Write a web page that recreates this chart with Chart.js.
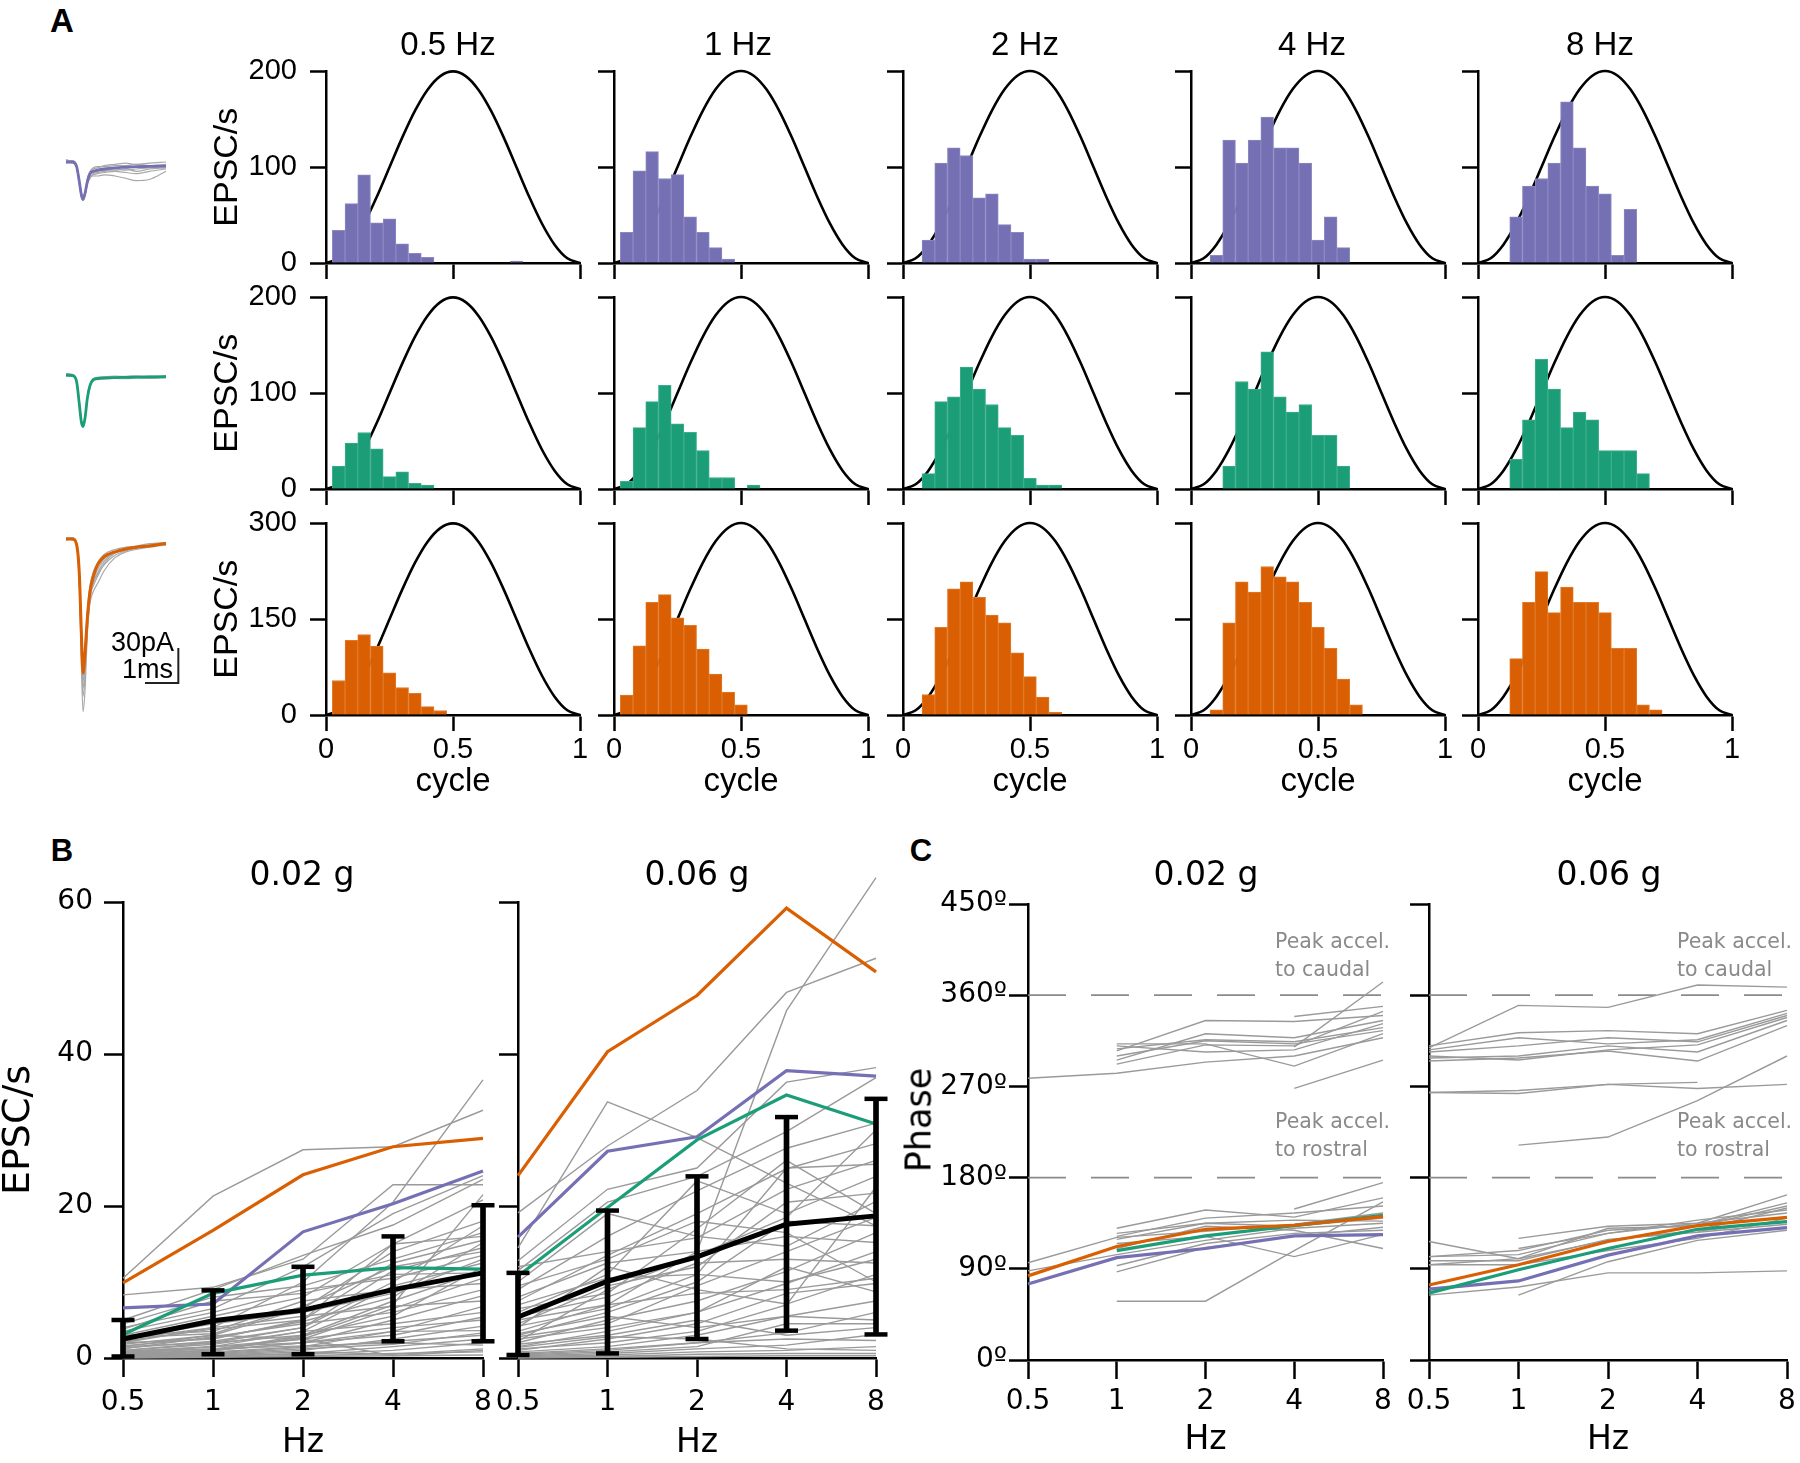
<!DOCTYPE html>
<html><head><meta charset="utf-8">
<script src="https://cdn.jsdelivr.net/npm/chart.js@4.4.1/dist/chart.umd.min.js"></script>
<style>
html,body{margin:0;padding:0;background:#fff;}
#fig{position:relative;width:1800px;height:1463px;overflow:hidden;background:#fff;}
#fig canvas{position:absolute;}
.t{position:absolute;white-space:pre;line-height:1;color:#000;}
</style></head><body><div id="fig"></div>
<script>
// ================= DATA =================
const freqLabels = ['0.5', '1', '2', '4', '8'];
const colTitles = ['0.5 Hz', '1 Hz', '2 Hz', '4 Hz', '8 Hz'];
const cycleTicks = ['0', '0.5', '1'];
const phaseTickLabels = ['0º', '90º', '180º', '270º', '360º', '450º'];
const refPhases = [180, 360];

// histogram bin centres (cycle)
const binCenters = [0.05,0.10,0.15,0.20,0.25,0.30,0.35,0.40,0.45,0.50,0.55,0.60,0.65,0.70,0.75,0.80,0.85,0.90,0.95];
// stimulus (normalised acceleration) sampled over one cycle
const stimX = [0,0.05,0.10,0.15,0.20,0.25,0.30,0.35,0.40,0.45,0.50,0.55,0.60,0.65,0.70,0.75,0.80,0.85,0.90,0.95,1.0];
const stimShape = [0,0.0245,0.0955,0.2061,0.3455,0.5,0.6545,0.7939,0.9045,0.9755,1,0.9755,0.9045,0.7939,0.6545,0.5,0.3455,0.2061,0.0955,0.0245,0];
const rowPeaks = [200, 200, 300];
const rowTickStep = [100, 100, 150];

// EPSC/s histograms, row 1 (purple cell)
const histPurple05 = [34,62,92,42,46,20,10,6,0,0,0,0,0,0,2,0,0,0,0];
const histPurple1  = [32,96,116,88,92,48,32,16,4,0,0,0,0,0,0,0,0,0,0];
const histPurple2  = [0,24,104,120,112,68,72,40,32,4,4,0,0,0,0,0,0,0,0];
const histPurple4  = [0,8,128,104,128,152,120,120,104,24,48,16,0,0,0,0,0,0,0];
const histPurple8  = [0,0,48,80,88,104,168,120,80,72,8,56,0,0,0,0,0,0,0];
// row 2 (green cell)
const histGreen05 = [24,48,59,42,13,18,6,4,0,0,0,0,0,0,0,0,0,0,0];
const histGreen1  = [8,64,91,108,68,59,40,12,12,0,4,0,0,0,0,0,0,0,0];
const histGreen2  = [0,16,91,96,127,104,88,64,56,11,4,4,0,0,0,0,0,0,0];
const histGreen4  = [0,0,24,112,104,143,96,80,88,56,56,24,0,0,0,0,0,0,0];
const histGreen8  = [0,0,31,72,135,104,64,80,72,40,40,40,16,0,0,0,0,0,0];
// row 3 (orange cell)
const histOrange05 = [54,117,126,108,66,43,34,13,7,0,0,0,0,0,0,0,0,0,0];
const histOrange1  = [31,108,176,188,152,140,103,64,36,16,0,0,0,0,0,0,0,0,0];
const histOrange2  = [0,32,137,197,208,184,156,144,97,60,28,4,0,0,0,0,0,0,0];
const histOrange4  = [0,8,144,208,192,232,216,208,176,137,104,56,16,0,0,0,0,0,0];
const histOrange8  = [0,0,88,176,224,160,200,176,176,160,104,104,16,8,0,0,0,0,0];

// mean EPSC waveforms (time in ms, current in pA)
const waveT = [0,0.2,0.32,0.4,0.46,0.51,0.57,0.64,0.72,0.82,0.95,1.15,1.47,1.8,2.1,2.5,3.0];
const wavePurple = [0,0,-4,-17,-28,-32,-27,-17,-10,-8,-7,-6,-5,-4.5,-4,-3.8,-3.5];
const wavePurpleGray = [
  [1,1,-3,-15,-26,-30,-26,-17,-12,-11,-10,-9,-8,-9,-10,-8,-6],
  [-1,0,-5,-19,-30,-33,-29,-18,-9,-6,-5,-3,-2,-1,-2,-1,0],
  [0,1,-4,-16,-27,-31,-27,-18,-13,-12,-12,-11,-12,-14,-16,-15,-8],
  [2,0,-3,-17,-29,-32,-26,-14,-8,-5,-4,-4,-3,-3,-2,-3,-2],
  [0,-1,-4,-18,-28,-31,-28,-19,-14,-10,-9,-8,-6,-7,-6,-5,-4],
  [1,0,-5,-18,-29,-33,-28,-16,-11,-9,-8,-7,-7,-6,-8,-6,-5]
];
const waveGreen = [0,-0.5,-6,-25,-40,-44,-37,-20,-9,-4,-3,-2.5,-2.2,-2,-1.8,-1.7,-1.5];
const waveGreenGray = [
  [1,0.5,-5,-23,-38,-43,-36,-19,-8,-3,-2,-1.5,-1,-1.2,-0.8,-1,-0.5],
  [-1,-1,-7,-26,-41,-45,-38,-21,-10,-5,-4,-3.5,-3,-3.2,-2.5,-2.8,-2.2]
];
const waveOrange = [0,0,-5,-30,-80,-115,-98,-68,-45,-32,-22,-15,-11,-8.5,-7,-6,-3.6];
const waveOrangeGray = [
  [1,0,-6,-40,-105,-148,-130,-82,-52,-38,-30,-22,-14,-10,-8,-6,-5],
  [0,1,-4,-35,-95,-135,-118,-78,-55,-45,-38,-27,-16,-11,-9,-7,-5],
  [-1,0,-5,-28,-78,-112,-97,-62,-40,-28,-20,-13,-9,-7,-6,-4,-3],
  [1,1,-3,-25,-72,-106,-93,-64,-47,-40,-32,-21,-12,-9,-7,-6,-4],
  [0,0,-6,-38,-92,-128,-110,-74,-50,-37,-29,-19,-11,-8,-7,-5,-4],
  [0,-1,-5,-33,-88,-122,-106,-70,-48,-35,-26,-17,-12,-9,-8,-6,-5]
];
// scale bar: 1 ms x 30 pA
const scaleBarT = [2.37, 3.37, 3.37];
const scaleBarI = [-123.4, -123.4, -93.4];

// Panel B: EPSC/s vs frequency
const bLowOrange = [9.9,16.8,24.1,27.8,28.9];
const bLowPurple = [6.6,7.1,16.6,20.3,24.6];
const bLowGreen  = [3.1,8.5,10.9,11.9,11.7];
const bLowMean   = [2.5,4.9,6.3,9.0,11.2];
const bLowErrLo  = [0.2,0.5,0.5,2.2,2.2];
const bLowErrHi  = [5.0,8.9,12.0,16.0,20.1];
const bLowGray = [
  [10.5,21.3,27.4,27.8,32.6],[2.5,4.0,10.0,20.5,36.6],[8.3,9.3,13.0,22.8,22.8],[4.0,6.5,12.0,19.0,24.0],
  [5.0,9.0,13.5,17.5,23.5],[3.0,5.5,8.0,15.0,20.8],[1.5,3.0,6.5,14.0,18.0],[4.5,8.0,9.5,13.0,16.5],
  [2.0,2.5,5.0,12.5,15.5],[1.0,2.0,4.0,11.5,14.5],[3.5,6.0,9.0,10.5,13.5],[0.5,1.5,3.5,9.5,12.5],
  [2.5,4.5,6.0,8.5,13.0],[1.5,2.0,3.0,7.5,11.5],[0.8,1.2,2.5,6.5,10.5],[3.0,3.5,7.5,9.0,9.8],
  [1.2,2.8,4.5,6.0,9.0],[0.5,1.0,2.0,5.0,8.2],[2.0,4.0,5.5,6.8,7.5],[0.3,0.8,1.5,3.5,6.8],
  [1.0,1.8,3.5,4.5,6.0],[0.6,1.0,2.0,3.0,5.4],[1.8,3.0,2.5,4.0,5.0],[0.2,0.5,1.0,2.5,4.2],
  [0.9,1.5,2.0,3.5,3.6],[0.4,0.6,1.2,1.8,3.3],[0.1,0.3,0.6,1.5,2.5],[0.7,1.2,1.6,2.0,1.7],
  [0.2,0.4,0.8,0.5,1.2],[0.1,0.2,0.3,0.6,0.8],[0.0,0.1,0.2,0.3,0.4],[1.3,2.2,4.0,10.0,17.4],
  [2.2,3.8,5.0,15.0,16.0],[0.4,1.0,3.0,5.5,12.0],[1.6,2.6,4.8,8.0,15.2],[0.3,0.7,1.4,2.2,3.0],
  [3.8,7.5,8.5,11.0,11.2],[0.5,0.9,2.8,7.0,21.5],[2.7,3.2,6.8,12.0,14.0],[0.2,0.3,0.5,1.0,2.0],
  [0.8,1.5,2.5,0.3,1.0]
];
const bHighOrange = [24.0,40.3,47.7,59.2,50.8];
const bHighPurple = [15.9,27.2,29.1,37.8,37.1];
const bHighGreen  = [10.8,19.8,28.7,34.6,30.8];
const bHighMean   = [5.4,10.1,13.3,17.6,18.7];
const bHighErrLo  = [0.4,0.6,2.5,3.6,3.1];
const bHighErrHi  = [11.2,19.4,23.9,31.7,34.1];
const bHighGray = [
  [3.5,7.0,14.0,45.7,63.2],[19.1,27.9,35.2,48.1,52.6],[14.5,33.7,29.0,23.0,17.4],[12.8,22.2,25.0,36.3,38.2],
  [11.5,20.5,23.9,29.8,36.9],[9.0,16.0,22.0,27.6,30.9],[7.5,13.5,19.0,24.9,28.2],[12.0,14.0,15.8,22.2,26.0],
  [6.0,11.0,23.3,19.0,23.9],[4.5,9.5,12.0,20.5,21.7],[10.0,19.0,16.0,14.7,20.6],[3.0,6.0,10.0,18.0,17.4],
  [8.0,12.5,14.0,16.0,15.2],[2.0,5.0,7.5,11.4,16.5],[5.5,8.0,12.5,13.0,12.5],[1.5,3.5,6.0,9.8,14.0],
  [4.0,12.0,9.0,7.1,11.0],[1.0,2.5,4.5,8.5,9.8],[2.5,4.0,6.0,12.0,8.7],[0.8,1.5,3.0,5.5,7.5],
  [3.2,5.5,4.0,5.5,5.0],[0.5,1.0,2.0,3.3,6.0],[1.8,3.0,5.0,3.0,4.0],[0.3,0.6,1.2,1.7,3.1],
  [0.6,1.2,2.0,2.5,2.3],[0.2,0.4,0.8,1.0,1.5],[0.1,0.2,0.5,0.6,0.6],[0.0,0.1,0.2,0.3,0.3],
  [6.5,8.5,17.0,26.0,19.0],[2.2,9.0,13.5,18.5,30.0],[7.0,10.5,11.0,10.0,13.0],[1.2,2.0,3.5,7.0,22.5],
  [5.0,7.0,8.5,9.0,10.5],[0.4,0.8,1.5,4.5,4.5],[2.8,4.5,9.5,14.0,18.5],[9.5,13.0,18.0,16.5,10.0],
  [1.4,2.8,2.5,1.2,1.0],[4.2,6.5,11.0,25.0,25.5]
];

// Panel C: phase (deg) vs frequency
const cLowOrange = [83,112,129,133,141.5];
const cLowGreen  = [null,108,122.5,132.6,142.7];
const cLowPurple = [75,101,110,122.5,123.7];
const cLowGray = [
  [96,121,127,134,145],[null,130,148,141,160],[null,122,140,145,152],[null,119,135,138,137],
  [null,93,115,125,128],[null,87,111,122,131],[null,58,58,108,156],[null,115,122,102,124],
  [88,104,118,130,135],[null,null,null,149,175],[null,110,132,128,110],[null,125,135,132,140],
  [278,283,294,300,318],[null,310,304,306,332],[null,305,335,334,340],[null,296,322,318,335],
  [null,307,316,314,328],[null,300,315,312,325],[null,292,311,310,344],[null,null,null,339,349],
  [null,null,null,268,296],[null,null,null,309,373],[null,312,312,290,322]
];
const cHighOrange = [74,94,117,132.6,140.7];
const cHighGreen  = [66,89,110,129,136.6];
const cHighPurple = [70,78,103.5,122.5,130.6];
const cHighGray = [
  [308,350,348,370,368],[310,323,325,322,345],[304,310,318,314,340],[298,300,310,304,335],
  [300,296,306,311,338],[295,298,305,295,330],[264,263,272,274,null],[264,266,272,268,272],
  [null,212,220,256,300],[306,318,312,316,342],
  [117,100,118,128,150],[102,104,125,135,163],[94,94,108,120,140],[102,108,128,133,155],
  [null,120,132,135,145],[null,64,97,118,128],[64,72,86,86,88],[98,98,119,126,134],
  [null,110,125,138,148],[null,null,null,127,137],[94,100,130,132,152]
];

// ================= STYLE =================
const cPurple = '#7570b3', cGreen = '#1b9e77', cOrange = '#d95f02', cGray = '#9a9a9a';
const cPurpleEdge = '#8c88c2', cGreenEdge = '#3cae8b', cOrangeEdge = '#e07a2a';
const FA = "'Liberation Sans', Arial, sans-serif";
const FB = "'DejaVu Sans', Verdana, sans-serif";

Chart.defaults.animation = false;
Chart.defaults.responsive = false;
Chart.defaults.events = [];
Chart.defaults.color = '#000';
Chart.defaults.font.family = FA;
Chart.defaults.plugins.legend.display = false;
Chart.defaults.plugins.tooltip.enabled = false;
Chart.defaults.elements.point.radius = 0;
Chart.defaults.elements.line.tension = 0;

const fig = document.getElementById('fig');

function fixedChart(o) {
  const PT = 30, PR = 30;
  const W = o.yW + o.w + PR, H = PT + o.h + o.xH;
  const cv = document.createElement('canvas');
  cv.width = W; cv.height = H;
  cv.style.left = (o.left - o.yW) + 'px';
  cv.style.top = (o.top - PT) + 'px';
  cv.style.width = W + 'px'; cv.style.height = H + 'px';
  fig.appendChild(cv);
  const cfg = o.config;
  cfg.options.devicePixelRatio = 1;
  cfg.options.layout = {padding: {left: 0, top: PT, right: PR, bottom: 0}};
  cfg.options.scales.x.afterFit = s => { s.height = o.xH; };
  cfg.options.scales.y.afterFit = s => { s.width = o.yW; };
  return new Chart(cv, cfg);
}

function axis(e) {
  const a = {
    grid: {display: true, drawOnChartArea: false, drawTicks: true, tickLength: e.tl, tickWidth: 2.5, tickColor: '#000', offset: false},
    border: {display: true, width: 2.5, color: '#000'},
    ticks: {display: e.labels, padding: e.pad, font: e.font, color: '#000', autoSkip: false, maxRotation: 0, minRotation: 0}
  };
  if (e.title) a.title = {display: true, text: e.title, font: e.titleFont, color: '#000', padding: {top: 0, bottom: 0}};
  return a;
}

function addText(txt, x, y, css, anchor) {
  const d = document.createElement('div');
  d.className = 't';
  d.textContent = txt;
  d.style.left = x + 'px'; d.style.top = y + 'px';
  d.style.transform = anchor === 'r' ? 'translate(-100%,-50%)' : anchor === 'tl' ? 'none' :
    anchor === 'rot' ? 'translate(-50%,-50%) rotate(-90deg)' : 'translate(-50%,-50%)';
  Object.assign(d.style, css);
  fig.appendChild(d);
}

// ================= PANEL A =================
const histRows = [
  [histPurple05, histPurple1, histPurple2, histPurple4, histPurple8],
  [histGreen05, histGreen1, histGreen2, histGreen4, histGreen8],
  [histOrange05, histOrange1, histOrange2, histOrange4, histOrange8]
];
const rowColors = [cPurple, cGreen, cOrange];
const rowEdges = [cPurpleEdge, cGreenEdge, cOrangeEdge];
const aLefts = [326, 614, 903, 1191, 1478];
const aTops = [71, 297, 523];
const aW = 254, aH = 192;

for (let r = 0; r < 3; r++) {
  for (let c = 0; c < 5; c++) {
    const hv = histRows[r][c];
    const bars = [];
    binCenters.forEach((x, i) => { if (hv[i] > 0) bars.push({x: x, y: hv[i]}); });
    const peak = rowPeaks[r];
    const yAx = axis({tl: 16, labels: c === 0, pad: 13, font: {family: FA, size: 29},
      title: c === 0 ? 'EPSC/s' : null, titleFont: {family: FA, size: 34}});
    Object.assign(yAx, {type: 'linear', min: 0, max: peak});
    yAx.ticks.stepSize = rowTickStep[r];
    const xAx = axis({tl: 16, labels: r === 2, pad: 2, font: {family: FA, size: 29},
      title: r === 2 ? 'cycle' : null, titleFont: {family: FA, size: 33}});
    Object.assign(xAx, {type: 'linear', min: 0, max: 1, offset: false});
    xAx.ticks.stepSize = 0.5;
    xAx.ticks.callback = (v, i) => cycleTicks[i];
    fixedChart({
      left: aLefts[c], top: aTops[r], w: aW, h: aH, yW: c === 0 ? 119 : 40, xH: 87,
      config: {
        type: 'bar',
        data: {datasets: [
          {type: 'bar', data: bars, backgroundColor: rowColors[r], borderColor: rowEdges[r], borderWidth: 1,
           barPercentage: 1, categoryPercentage: 1, order: 1},
          {type: 'line', data: stimX.map((x, i) => ({x: x, y: stimShape[i] * peak})), borderColor: '#000',
           borderWidth: 2.6, pointRadius: 0, cubicInterpolationMode: 'monotone', order: 2, clip: false}
        ]},
        options: {scales: {x: xAx, y: yAx}}
      }
    });
  }
}

// waveform insets
function insetChart(left, top, w, h, yMin, yMax, datasets) {
  const P = 12;
  const cv = document.createElement('canvas');
  cv.width = w + 2 * P; cv.height = h + 2 * P;
  cv.style.left = (left - P) + 'px'; cv.style.top = (top - P) + 'px';
  cv.style.width = cv.width + 'px'; cv.style.height = cv.height + 'px';
  fig.appendChild(cv);
  return new Chart(cv, {
    type: 'line',
    data: {datasets: datasets},
    options: {
      devicePixelRatio: 1,
      layout: {padding: P},
      scales: {x: {type: 'linear', display: false, min: 0, max: 3.6}, y: {type: 'linear', display: false, min: yMin, max: yMax}}
    }
  });
}
function traceDs(vals, color, width, order) {
  return {data: waveT.map((t, i) => ({x: t, y: vals[i]})), borderColor: color, borderWidth: width,
          pointRadius: 0, cubicInterpolationMode: 'monotone', order: order, clip: false};
}
insetChart(66, 148, 120, 63, -42, 12,
  wavePurpleGray.map(g => traceDs(g, '#a8a8a8', 1.2, 5)).concat([traceDs(wavePurple, cPurple, 2.8, 1)]));
insetChart(66, 361, 120, 77, -54, 12,
  waveGreenGray.map(g => traceDs(g, '#a8a8a8', 1.2, 5)).concat([traceDs(waveGreen, cGreen, 2.8, 1)]));
insetChart(66, 525, 120, 196, -156, 12,
  waveOrangeGray.map(g => traceDs(g, '#a8a8a8', 1.2, 5)).concat([
    traceDs(waveOrange, cOrange, 3, 1),
    {data: scaleBarT.map((t, i) => ({x: t, y: scaleBarI[i]})), borderColor: '#222', borderWidth: 2, pointRadius: 0, order: 0, clip: false}
  ]));

// ================= PANEL B =================
function lineDs(vals, color, width, order) {
  return {type: 'line', data: vals, borderColor: color, borderWidth: width, pointRadius: 0, order: order, clip: false};
}
function bChart(left, w, yW, first, gray, orange, purple, green, mean, lo, hi) {
  const ds = gray.map(g => lineDs(g, cGray, 1.4, 10));
  ds.push(lineDs(green, cGreen, 3.2, 6), lineDs(purple, cPurple, 3.2, 6), lineDs(orange, cOrange, 3.2, 6));
  ds.push(lineDs(mean, '#000', 5, 4));
  ds.push({type: 'bar', data: lo.map((v, i) => [v, hi[i]]), backgroundColor: '#000', barThickness: 5, order: 3, clip: false});
  [lo, hi].forEach(arr => ds.push({type: 'line', data: arr, showLine: false, pointStyle: 'line', pointRadius: 11.5,
    pointBorderWidth: 4.5, pointBorderColor: '#000', pointBackgroundColor: '#000', order: 2, clip: false}));
  const yAx = axis({tl: 19, labels: first, pad: 11, font: {family: FB, size: 28},
    title: first ? 'EPSC/s' : null, titleFont: {family: FB, size: 38}});
  Object.assign(yAx, {type: 'linear', min: 0, max: 60});
  yAx.ticks.stepSize = 20;
  const xAx = axis({tl: 19, labels: true, pad: 9, font: {family: FB, size: 28}, title: 'Hz', titleFont: {family: FB, size: 33}});
  Object.assign(xAx, {type: 'category', offset: false});
  fixedChart({left: left, top: 902, w: w, h: 456, yW: yW, xH: 105,
    config: {type: 'line', data: {labels: freqLabels, datasets: ds}, options: {scales: {x: xAx, y: yAx}}}});
}
bChart(123, 360, 127, true, bLowGray, bLowOrange, bLowPurple, bLowGreen, bLowMean, bLowErrLo, bLowErrHi);
bChart(518, 358, 40, false, bHighGray, bHighOrange, bHighPurple, bHighGreen, bHighMean, bHighErrLo, bHighErrHi);

// ================= PANEL C =================
function cChart(left, w, yW, first, gray, orange, purple, green) {
  const ds = refPhases.map(p => ({type: 'line', data: freqLabels.map(() => p), borderColor: '#8a8a8a', borderWidth: 1.8,
    borderDash: [38, 25], borderDashOffset: 0, pointRadius: 0, order: 20}));
  gray.forEach(g => ds.push(lineDs(g, cGray, 1.4, 10)));
  ds.push(lineDs(purple, cPurple, 3.2, 6), lineDs(green, cGreen, 3.2, 5), lineDs(orange, cOrange, 3.2, 4));
  const yAx = axis({tl: 19, labels: first, pad: 2, font: {family: FB, size: 28}, title: null});
  Object.assign(yAx, {type: 'linear', min: 0, max: 450});
  yAx.ticks.stepSize = 90;
  yAx.ticks.callback = (v, i) => phaseTickLabels[i];
  const xAx = axis({tl: 19, labels: true, pad: 6, font: {family: FB, size: 28}, title: 'Hz', titleFont: {family: FB, size: 33}});
  Object.assign(xAx, {type: 'category', offset: false});
  fixedChart({left: left, top: 904, w: w, h: 456, yW: yW, xH: 100,
    config: {type: 'line', data: {labels: freqLabels, datasets: ds}, options: {scales: {x: xAx, y: yAx}}}});
}
cChart(1028, 355, 130, true, cLowGray, cLowOrange, cLowPurple, cLowGreen);
cChart(1429, 358, 40, false, cHighGray, cHighOrange, cHighPurple, cHighGreen);

// ================= TEXT =================
addText('A', 62, 20, {fontFamily: FA, fontWeight: 'bold', fontSize: '33px'});
addText('B', 62, 850, {fontFamily: FA, fontWeight: 'bold', fontSize: '31px'});
addText('C', 921, 850, {fontFamily: FA, fontWeight: 'bold', fontSize: '31px'});
const colTitleX = [448, 738, 1025, 1312, 1600];
colTitles.forEach((t, i) => addText(t, colTitleX[i], 43, {fontFamily: FA, fontSize: '33px'}));
addText('0.02 g', 302, 873, {fontFamily: FB, fontSize: '33px'});
addText('0.06 g', 697, 873, {fontFamily: FB, fontSize: '33px'});
addText('0.02 g', 1206, 873, {fontFamily: FB, fontSize: '33px'});
addText('0.06 g', 1609, 873, {fontFamily: FB, fontSize: '33px'});
addText('Phase', 919, 1120, {fontFamily: FB, fontSize: '35px'}, 'rot');
const annCss = {fontFamily: FB, fontSize: '20.5px', lineHeight: '28px', color: '#8a8a8a'};
addText('Peak accel.\nto caudal', 1275, 927, annCss, 'tl');
addText('Peak accel.\nto rostral', 1275, 1107, annCss, 'tl');
addText('Peak accel.\nto caudal', 1677, 927, annCss, 'tl');
addText('Peak accel.\nto rostral', 1677, 1107, annCss, 'tl');
addText('30pA', 174, 642, {fontFamily: FA, fontSize: '27px'}, 'r');
addText('1ms', 173, 669, {fontFamily: FA, fontSize: '27px'}, 'r');
</script></body></html>
